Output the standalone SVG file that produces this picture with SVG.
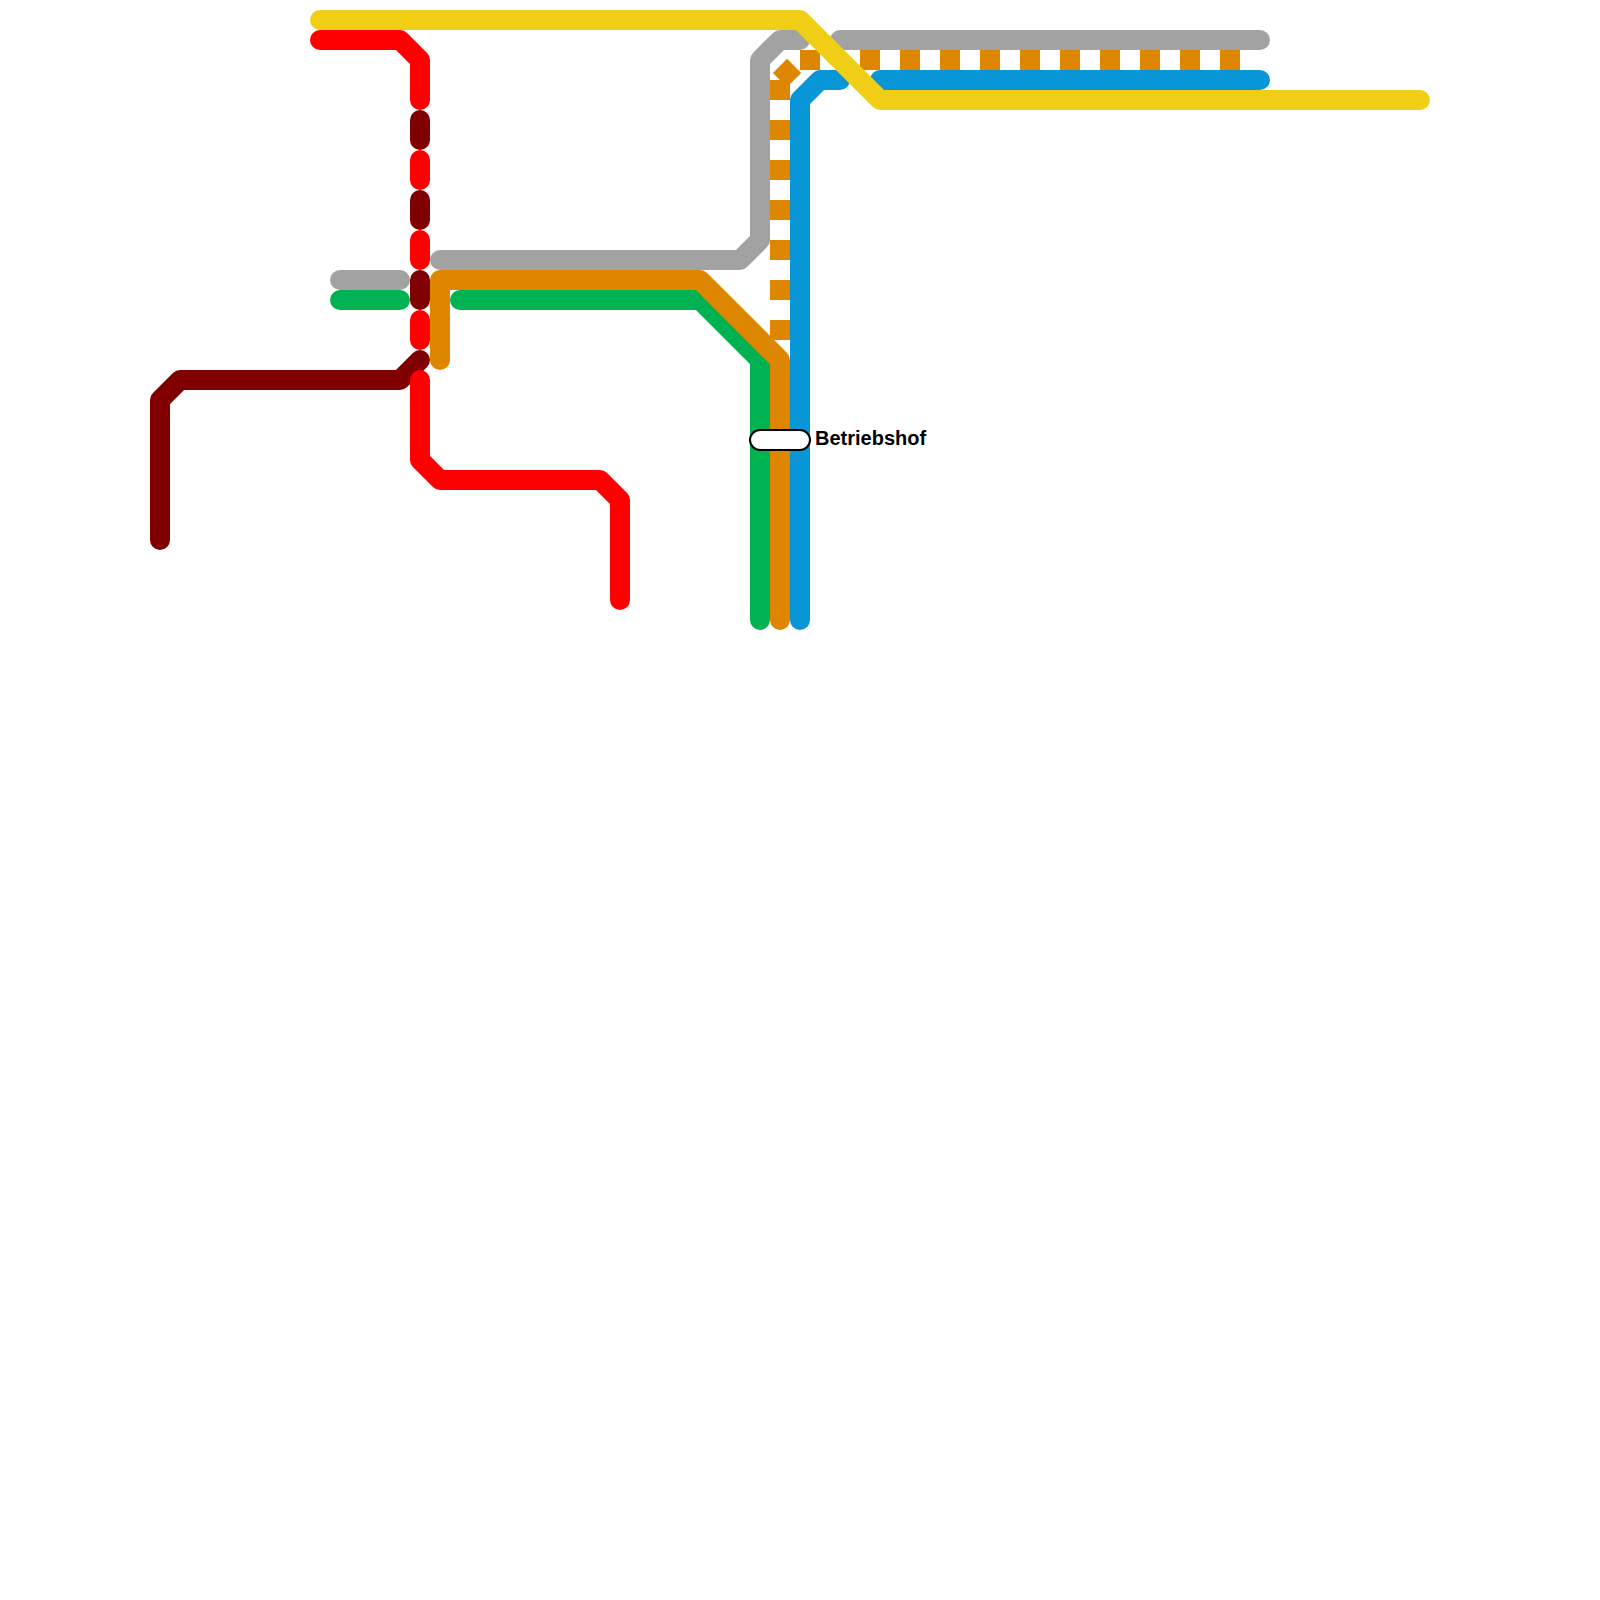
<svg xmlns="http://www.w3.org/2000/svg" width="1600" height="1600" viewBox="0 0 1600 1600">
<style>
.l{fill:none;stroke-width:20;stroke-linecap:round;stroke-linejoin:round}
.d{fill:none;stroke-width:20;stroke-linecap:butt;stroke:#df8600}
.red{stroke:#ff0000}.dark{stroke:#800000}.gray{stroke:#a2a2a2}.green{stroke:#00b251}.orange{stroke:#df8600}.blue{stroke:#0896d7}.yellow{stroke:#f0ce15}
.st{fill:#fff;stroke:#000;stroke-width:2}
.lb{font-family:"Liberation Sans",Arial,sans-serif;font-weight:bold;font-size:20px;fill:#000}
</style>
<g id="connectors">
<g id="line-dark">
<path class="l dark" d="M420,120V140"/>
<path class="l dark" d="M420,200V220"/>
<path class="l dark" d="M420,280V300"/>
<path class="l dark" d="M420,360L400,380H180L160,400V540"/>
</g>
<g id="line-red">
<path class="l red" d="M320,40H400L420,60V100"/>
<path class="l red" d="M420,160V180"/>
<path class="l red" d="M420,240V260"/>
<path class="l red" d="M420,320V340"/>
<path class="l red" d="M420,380V460L440,480H600L620,500V600"/>
</g>
<g id="line-gray">
<path class="l gray" d="M340,280H400"/>
<path class="l gray" d="M440,260H740L760,240V60L780,40H800"/>
<path class="l gray" d="M840,40H1260"/>
</g>
<g id="line-green">
<path class="l green" d="M340,300H400"/>
<path class="l green" d="M460,300H700L760,360V620"/>
</g>
<g id="line-orange">
<path class="l orange" d="M440,360V280H700L780,360V620"/>
<path class="d" stroke-dasharray="20 20" d="M780,340V80"/>
<path class="d" d="M780,80L794.14,65.86"/>
<path class="d" d="M800,60H820"/>
<path class="d" stroke-dasharray="20 20" d="M860,60H1240"/>
</g>
<g id="line-blue">
<path class="l blue" d="M800,620V100L820,80H840"/>
<path class="l blue" d="M880,80H1260"/>
</g>
<g id="line-yellow">
<path class="l yellow" d="M320,20H800L880,100H1420"/>
</g>
</g>
<g id="node-betriebshof">
<rect class="st" x="750" y="430" width="60" height="20" rx="10" ry="10"/>
<text class="lb" x="815" y="445">Betriebshof</text>
</g>
</svg>
